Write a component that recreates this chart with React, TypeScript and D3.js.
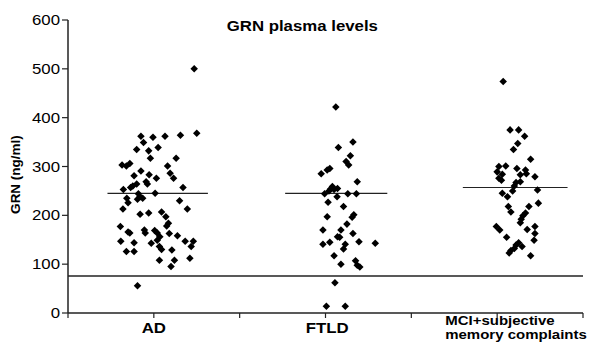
import React from "react";
import * as d3 from "d3";

// jitter x (category units), GRN value (ng/ml)
const adPoints: [number, number][] = [
  [1.47, 500], [1.5, 368], [0.85, 362], [0.99, 360], [1.13, 362], [1.31, 364],
  [0.88, 349], [0.8, 335], [0.94, 332], [1.05, 339], [0.96, 317], [1.26, 317],
  [0.63, 303], [0.68, 301], [0.72, 306], [1.16, 301], [0.85, 291], [1.19, 286],
  [0.77, 281], [0.945, 283], [1.23, 276], [1.03, 276], [0.91, 269], [0.925, 264],
  [0.8, 264], [0.755, 260], [0.73, 257], [0.645, 253], [1.34, 257], [1.015, 245],
  [0.82, 244], [0.685, 235], [0.84, 238], [0.87, 235], [0.81, 233], [0.7, 226],
  [1.3, 230], [0.64, 213], [1.39, 213], [1.09, 207], [0.84, 202], [0.94, 205],
  [1.14, 197], [1.17, 184], [1.15, 178], [0.61, 177], [0.7, 166], [0.72, 164],
  [0.89, 170], [0.9, 164], [1.01, 169], [1.04, 164], [1.18, 163], [1.275, 158],
  [1.07, 156], [1.04, 149], [0.615, 147], [0.77, 144], [0.97, 143], [1.065, 136],
  [1.09, 130], [1.365, 147], [1.46, 147], [1.435, 136], [1.21, 129], [0.68, 126],
  [0.77, 126], [1.065, 108], [1.24, 108], [1.42, 112], [1.2, 95], [0.81, 56],
];

const ftldPoints: [number, number][] = [
  [3.12, 422], [3.15, 339], [3.32, 350], [3.29, 322], [3.24, 310], [3.27, 303],
  [3.05, 296], [3.02, 293], [2.95, 285], [3.37, 269], [3.08, 259], [3.06, 254],
  [3.1, 253], [3.14, 255], [3.04, 250], [2.99, 244], [3.26, 244], [3.36, 244],
  [3.135, 238], [3.03, 227], [3.21, 218], [3.02, 197], [3.33, 201], [3.31, 196],
  [3.25, 182], [2.97, 170], [3.18, 170], [3.32, 163], [3.14, 156], [3.165, 155],
  [3.05, 145], [2.97, 141], [3.23, 141], [3.39, 146], [3.58, 143], [3.21, 131],
  [3.1, 117], [3.18, 100], [3.35, 107], [3.37, 98], [3.4, 94], [3.11, 62],
  [3.01, 14], [3.23, 14],
];

const mciPoints: [number, number][] = [
  [5.07, 474], [5.15, 375], [5.25, 375], [5.32, 362], [5.24, 347], [5.19, 335],
  [5.39, 315], [5.02, 300], [5.1, 301], [5.23, 296], [5.33, 293], [5.0, 289],
  [5.06, 284], [5.27, 283], [5.34, 285], [5.44, 279], [5.02, 276], [5.05, 272],
  [5.22, 267], [5.27, 269], [5.2, 260], [5.47, 252], [5.18, 250], [5.06, 245],
  [5.12, 238], [5.37, 218], [5.48, 225], [5.13, 218], [5.16, 207], [5.33, 205],
  [5.3, 199], [5.28, 192], [5.27, 185], [4.99, 177], [5.03, 170], [5.35, 171],
  [5.44, 177], [5.44, 163], [5.11, 155], [5.43, 149], [5.25, 144], [5.22, 139],
  [5.2, 132], [5.16, 128], [5.14, 123], [5.39, 117], [5.29, 136],
];

// mean lines: [x start, x end, value]
const meanLines: [number, number, number][] = [
  [0.46, 1.63, 245],
  [2.53, 3.72, 245],
  [4.6, 5.82, 257],
];
const threshold = 76;

const yTicks = [0, 100, 200, 300, 400, 500, 600];
const xTicks = [0, 1, 2, 3, 4, 5, 6];
const categories = ["AD", "FTLD"];
const categoryPos = [1, 3.02];
const mciLabel = ["MCI+subjective", "memory complaints"];

const W = 598;
const H = 353;
const font = "Arial, 'Liberation Sans', sans-serif";
const stretch = 1.2;

export default function App() {
  const x = d3.scaleLinear().domain([0, 6]).range([68, 583]);
  const y = d3.scaleLinear().domain([0, 600]).range([313, 20]);
  const diamond = d3.symbol().type((d3 as any).symbolDiamond2 ?? d3.symbolDiamond).size(36)();

  const allPoints = [...adPoints, ...ftldPoints, ...mciPoints];

  return (
    <svg
      width={W}
      height={H}
      style={{ position: "absolute", left: 0, top: 0, background: "#fff" }}
      fontFamily={font}
    >
      {/* title */}
      <text
        transform={`translate(${x(2.73)},31) scale(${stretch},1)`}
        textAnchor="middle"
        fontSize={14}
        fontWeight="bold"
      >
        GRN plasma levels
      </text>

      {/* y axis */}
      <line x1={x(0)} x2={x(0)} y1={y(600)} y2={y(0)} stroke="#222" strokeWidth={1.5} />
      {yTicks.map((t) => (
        <g key={t}>
          <line x1={x(0) - 6} x2={x(0)} y1={y(t)} y2={y(t)} stroke="#222" strokeWidth={1.2} />
          <text
            transform={`translate(${x(0) - 8},${y(t) + 5}) scale(${stretch},1)`}
            textAnchor="end"
            fontSize={14}
          >
            {t}
          </text>
        </g>
      ))}
      <text
        transform={`translate(20,${y(300) + 8}) rotate(-90)`}
        textAnchor="middle"
        fontSize={13.5}
        fontWeight="bold"
      >
        GRN (ng/ml)
      </text>

      {/* x axis */}
      <line x1={x(0)} x2={x(6)} y1={y(0)} y2={y(0)} stroke="#222" strokeWidth={1.5} />
      {xTicks.map((t) => (
        <line key={t} x1={x(t)} x2={x(t)} y1={y(0)} y2={y(0) + 5} stroke="#222" strokeWidth={1.2} />
      ))}
      {categories.map((c, i) => (
        <text
          key={c}
          transform={`translate(${x(categoryPos[i])},333) scale(${stretch},1)`}
          textAnchor="middle"
          fontSize={14}
          fontWeight="bold"
        >
          {c}
        </text>
      ))}
      {mciLabel.map((l, i) => (
        <text
          key={l}
          transform={`translate(${x(5) - 52},${325 + i * 13.5}) scale(${stretch},1)`}
          fontSize={12.5}
          fontWeight="bold"
        >
          {l}
        </text>
      ))}

      {/* threshold line */}
      <line x1={x(0)} x2={x(6)} y1={y(threshold)} y2={y(threshold)} stroke="#222" strokeWidth={1.5} />

      {/* means */}
      {meanLines.map(([a, b, v], i) => (
        <line key={i} x1={x(a)} x2={x(b)} y1={y(v)} y2={y(v)} stroke="#222" strokeWidth={1.2} />
      ))}

      {/* points */}
      {allPoints.map(([px, v], i) => (
        <path key={i} d={diamond ?? ""} transform={`translate(${x(px)},${y(v)})`} fill="#000" />
      ))}
    </svg>
  );
}
